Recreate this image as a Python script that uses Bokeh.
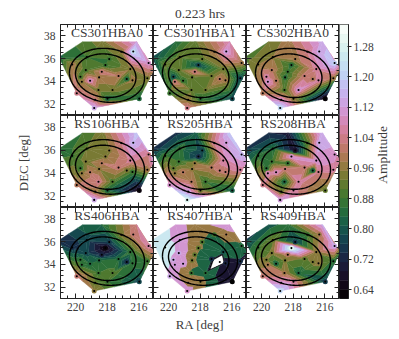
import numpy as np
from itertools import combinations
from bokeh.plotting import figure
from bokeh.layouts import column, row
from bokeh.models import (ColumnDataSource, Range1d, LinearAxis, FixedTicker, Label,
                          PrintfTickFormatter, CustomLabelingPolicy)
from bokeh.core.properties import value
from bokeh.embed import file_html
from bokeh.resources import INLINE

title_text = "0.223 hrs"
x_label = "RA [deg]"
y_label = "DEC [deg]"
cb_label = "Amplitude"
names = ["CS301HBA0", "CS301HBA1", "CS302HBA0",
         "RS106HBA", "RS205HBA", "RS208HBA",
         "RS406HBA", "RS407HBA", "RS409HBA"]

# stations 1..25, then five outer nodes (A, B, E, C, D) with no marker
ra = [216.35, 217.11, 215.38, 219.29, 217.87, 218.11, 220.21, 216.54, 218.34, 219.35,
      219.69, 217.28, 216.76, 218.51, 216.40, 219.60, 219.08, 218.55, 217.66, 215.97,
      217.98, 218.76, 218.82, 219.92, 215.46,
      221.05, 219.56, 218.34, 216.14, 215.02]
dec = [36.63, 36.60, 35.61, 36.13, 35.96, 35.43, 35.49, 35.08, 34.85, 34.99,
       34.41, 34.47, 34.21, 34.35, 34.09, 33.97, 34.06, 33.24, 33.24, 32.48,
       32.48, 32.39, 31.66, 32.95, 34.28,
       36.12, 37.48, 37.48, 37.48, 35.08]
n_stations = 25

amp_cs301a = [1.22, .96, 1.10, .88, .88, .88, .98, .95, 1.02, .90, .90, 1.00, .85, .98, .97, .96, 1.08, .94, .94, .84, .84, 1.02, 1.14, 1.04, .94, .83, .90, .94, 1.12, 1.02]
amp_cs301b = [1.12, .98, .98, .92, .92, .78, .92, .93, 1.02, .92, .80, .93, 1.00, .92, .98, 1.02, .88, .92, .93, .78, .86, .96, 1.04, .88, .78, .78, .84, .92, 1.08, .86]
amp_cs302 = [1.14, 1.04, 1.20, .96, .98, .86, .96, 1.05, .88, 1.00, 1.06, 1.02, 1.00, .86, 1.06, 1.10, 1.00, .90, 1.10, .63, .96, 1.08, 1.22, 1.00, .98, .90, .92, .98, 1.14, 1.00]
amp_rs106 = [1.16, 1.04, 1.04, .92, .95, .95, .88, 1.05, 1.00, .94, .88, 1.02, .94, .96, .88, .96, 1.00, 1.04, .90, .64, .84, .98, 1.14, 1.00, .98, .84, .88, .94, 1.18, 1.12]
amp_rs205 = [1.12, 1.04, 1.16, .86, .78, .74, .88, 1.06, .96, .88, .92, 1.00, 1.02, .96, 1.02, .96, 1.00, 1.00, .88, .82, .94, 1.12, 1.28, 1.10, 1.06, .72, .74, .80, 1.18, 1.12]
amp_rs208 = [1.14, .90, 1.10, .84, .68, 1.10, .86, 1.10, .88, .88, .86, 1.02, .84, 1.02, 1.04, 1.08, 1.08, .84, 1.06, .92, 1.06, .93, 1.12, 1.04, 1.06, .74, .72, .70, 1.16, 1.04]
amp_rs406 = [1.02, .94, 1.06, .78, .76, .64, .74, .86, .72, .78, .86, .84, .74, .84, .86, .86, .84, .88, .90, .78, .88, .92, .96, 1.02, .88, .72, .82, .84, 1.04, 1.02]
amp_rs407 = [.98, .88, .85, 1.12, .90, .92, 1.28, .80, .92, 1.14, 1.14, .74, -.30, .94, .72, 1.12, 1.12, .88, .85, .60, .96, .98, 1.10, 1.14, .74, 1.30, 1.14, .96, 1.14, .76]
amp_rs409 = [.98, .88, 1.14, .92, .76, 1.30, .88, .96, 1.00, .94, .94, .92, .94, .94, .96, .98, .84, .98, .84, .76, 1.06, 1.10, 1.22, 1.02, .86, .76, .80, .86, 1.14, .88]
panels = [amp_cs301a, amp_cs301b, amp_cs302, amp_rs106, amp_rs205, amp_rs208, amp_rs406, amp_rs407, amp_rs409]
band_step = [.04, .03, .04, .04, .04, .04, .04, .14, .05]

y_ticks = [32, 34, 36, 38]
x_ticks = [220, 218, 216]
y_minor = [31.5, 32.5, 33, 33.5, 34.5, 35, 35.5, 36.5, 37, 37.5, 38.5]
x_minor = [220.5, 219.5, 219, 218.5, 217.5, 217, 216.5, 215.5]
cb_ticks = [.64, .72, .80, .88, .96, 1.04, 1.12, 1.20, 1.28]

vmin, vmax = 0.617, 1.338
level_floor = 0.48
cb_bands = 30
# rings: centre RA, centre DEC, half-width, half-height, two tilts
rings = [(218.01, 34.53, 2.37, 2.37, .10, .13), (218.09, 34.50, 1.91, 1.915, .08, .10)]

INK = "#222222"
TXT = "#3c3c3c"
FONT = "Liberation Serif"


def cubehelix(v):
    t = np.clip((v - vmin) / (vmax - vmin), 0, 1)
    a = t * (1 - t) / 2
    phi = 2 * np.pi * (0.5 / 3 - 1.5 * t)
    c, s = np.cos(phi), np.sin(phi)
    r = t + a * (-0.14861 * c + 1.78277 * s)
    g = t + a * (-0.29227 * c - 0.90649 * s)
    b = t + a * (1.97294 * c)
    return "#%02x%02x%02x" % tuple(int(round(255 * min(max(q, 0), 1))) for q in (r, g, b))


def delaunay(px, py):
    out = []
    for i, j, k in combinations(range(len(px)), 3):
        ax, ay, bx, by, cx, cy = px[i], py[i], px[j], py[j], px[k], py[k]
        d = 2 * (ax * (by - cy) + bx * (cy - ay) + cx * (ay - by))
        if abs(d) < 1e-6:
            continue
        ux = ((ax**2 + ay**2) * (by - cy) + (bx**2 + by**2) * (cy - ay) + (cx**2 + cy**2) * (ay - by)) / d
        uy = ((ax**2 + ay**2) * (cx - bx) + (bx**2 + by**2) * (ax - cx) + (cx**2 + cy**2) * (bx - ax)) / d
        r2 = (ax - ux)**2 + (ay - uy)**2
        ok = True
        for m in range(len(px)):
            if m not in (i, j, k) and (px[m] - ux)**2 + (py[m] - uy)**2 < r2 - 1e-9:
                ok = False
                break
        if ok:
            out.append((i, j, k))
    return out


def clip(poly, level, keep_above):
    res = []
    for n in range(len(poly)):
        p, q = poly[n], poly[(n + 1) % len(poly)]
        pin = (p[2] >= level) == keep_above
        qin = (q[2] >= level) == keep_above
        if pin:
            res.append(p)
        if pin != qin:
            f = (level - p[2]) / (q[2] - p[2])
            res.append((p[0] + f * (q[0] - p[0]), p[1] + f * (q[1] - p[1]), level))
    return res


tris = delaunay(ra, dec)


def bands(values, step):
    xs, ys, cols = [], [], []
    lo = level_floor
    while lo < 1.45:
        hi = lo + step
        col = cubehelix(lo + step / 2)
        for t in tris:
            poly = [(ra[i], dec[i], values[i]) for i in t]
            poly = clip(poly, lo, True)
            if len(poly) >= 3:
                poly = clip(poly, hi, False)
            if len(poly) >= 3:
                xs.append([q[0] for q in poly])
                ys.append([q[1] for q in poly])
                cols.append(col)
        lo = hi
    return ColumnDataSource(dict(xs=xs, ys=ys, color=cols))


def style_axis(ax, ticks, minor, labelled, standoff):
    ax.ticker = FixedTicker(ticks=ticks, minor_ticks=minor)
    ax.major_tick_in = 5
    ax.major_tick_out = 0
    ax.minor_tick_in = 3
    ax.minor_tick_out = 0
    ax.major_tick_line_color = INK
    ax.minor_tick_line_color = INK
    ax.axis_line_color = INK
    ax.major_tick_line_width = 1
    ax.minor_tick_line_width = 1
    ax.major_label_standoff = standoff if labelled else 0
    ax.major_label_text_font = FONT
    ax.major_label_text_color = TXT
    ax.major_label_text_font_size = "11.5px" if labelled else "0px"
    if not labelled:
        ax.major_label_policy = CustomLabelingPolicy(
            code="for (const i of Array.from(indices)) { indices.unset(i); } return indices;")


def panel(idx):
    r, c = divmod(idx, 3)
    left = 24 if c == 0 else 0
    bottom = 15 if r == 2 else 0
    frame_h = 92 if r == 1 else 91
    p = figure(width=93 + left, height=frame_h + bottom,
               x_range=Range1d(220.95, 215.07), y_range=Range1d(31, 39),
               x_axis_type=None, y_axis_type=None, toolbar_location=None,
               output_backend="svg", min_border_left=left, min_border_right=0,
               min_border_top=0, min_border_bottom=bottom)
    p.grid.visible = False
    p.outline_line_color = INK
    p.background_fill_color = "white"
    p.border_fill_color = None
    for side, ticks, minor, lab in (("left", y_ticks, y_minor, c == 0), ("right", y_ticks, y_minor, False),
                                    ("below", x_ticks, x_minor, r == 2), ("above", x_ticks, x_minor, False)):
        ax = LinearAxis()
        style_axis(ax, ticks, minor, lab, 5 if side == "left" else 4)
        p.add_layout(ax, side)
    vals = panels[idx]
    p.patches("xs", "ys", source=bands(vals, band_step[idx]), fill_color="color",
              line_color="color", line_width=0.4)
    sx = [ra[i] for i in range(n_stations) if vals[i] >= level_floor]
    sy = [dec[i] for i in range(n_stations) if vals[i] >= level_floor]
    sc = [cubehelix(vals[i]) for i in range(n_stations) if vals[i] >= level_floor]
    p.scatter(sx, sy, size=5, fill_color=sc, line_color=None)
    p.scatter(ra[:n_stations], dec[:n_stations], size=2.1, fill_color="black", line_color=None)
    t = np.linspace(0, 2 * np.pi, 181)
    for cx, cy, a, b, m, k in rings:
        p.line(cx + a * np.cos(t) + m * np.sin(t), cy + b * np.sin(t) + k * np.cos(t),
               line_color="black", line_width=1.4)
    p.add_layout(Label(x=0.5 * (220.95 + 215.07), y=38.27, text=names[idx], text_font=FONT,
                       text_font_size="13.5px", text_color=TXT, text_align="center",
                       text_baseline="middle"))
    return p


def strip(w, h, s, x, y, size, angle=0.0):
    p = figure(width=w, height=h, x_range=Range1d(0, w), y_range=Range1d(h, 0),
               x_axis_type=None, y_axis_type=None, toolbar_location=None, output_backend="svg",
               min_border=0, min_border_left=0, min_border_right=0, min_border_top=0, min_border_bottom=0)
    p.grid.visible = False
    p.outline_line_color = None
    p.border_fill_color = None
    p.text(x=[x], y=[y], text=[s], angle=angle, text_font=value(FONT), text_font_size=size,
           text_color=TXT, text_align="center", text_baseline="middle")
    return p


figs = [panel(i) for i in range(9)]

cb = figure(width=37, height=289, x_range=Range1d(0, 1), y_range=Range1d(vmin, vmax),
            x_axis_type=None, y_axis_type=None, toolbar_location=None, output_backend="svg",
            min_border_left=0, min_border_right=26, min_border_top=0, min_border_bottom=15)
cb.grid.visible = False
cb.outline_line_color = INK
cb.border_fill_color = None
edges = np.linspace(vmin, vmax, cb_bands + 1)
mids = (edges[:-1] + edges[1:]) / 2
cb.quad(left=0, right=1, bottom=edges[:-1], top=edges[1:],
        fill_color=[cubehelix(m) for m in mids], line_color=[cubehelix(m) for m in mids], line_width=0.4)
cax = LinearAxis(ticker=FixedTicker(ticks=cb_ticks), formatter=PrintfTickFormatter(format="%.2f"),
                 major_tick_in=1, major_tick_out=3, minor_tick_in=0, minor_tick_out=0,
                 major_tick_line_color=INK, axis_line_color=INK, major_label_standoff=2,
                 major_label_text_font=FONT, major_label_text_color=TXT, major_label_text_font_size="11.5px")
cb.add_layout(cax, "right")

top_strip = strip(393, 24, title_text, 199.5, 12.5, "13.5px")
left_strip = strip(36, 289, y_label, 23, 146, "13px", np.pi / 2)
right_strip = strip(17, 289, cb_label, 6, 137.5, "13.5px", np.pi / 2)
bottom_strip = strip(393, 21, x_label, 199.5, 11, "13px")

grid = column(row(*figs[0:3]), row(*figs[3:6]), row(*figs[6:9]))
page = column(top_strip, row(left_strip, grid, cb, right_strip), bottom_strip)
open("out.html", "w").write(file_html(page, INLINE))
